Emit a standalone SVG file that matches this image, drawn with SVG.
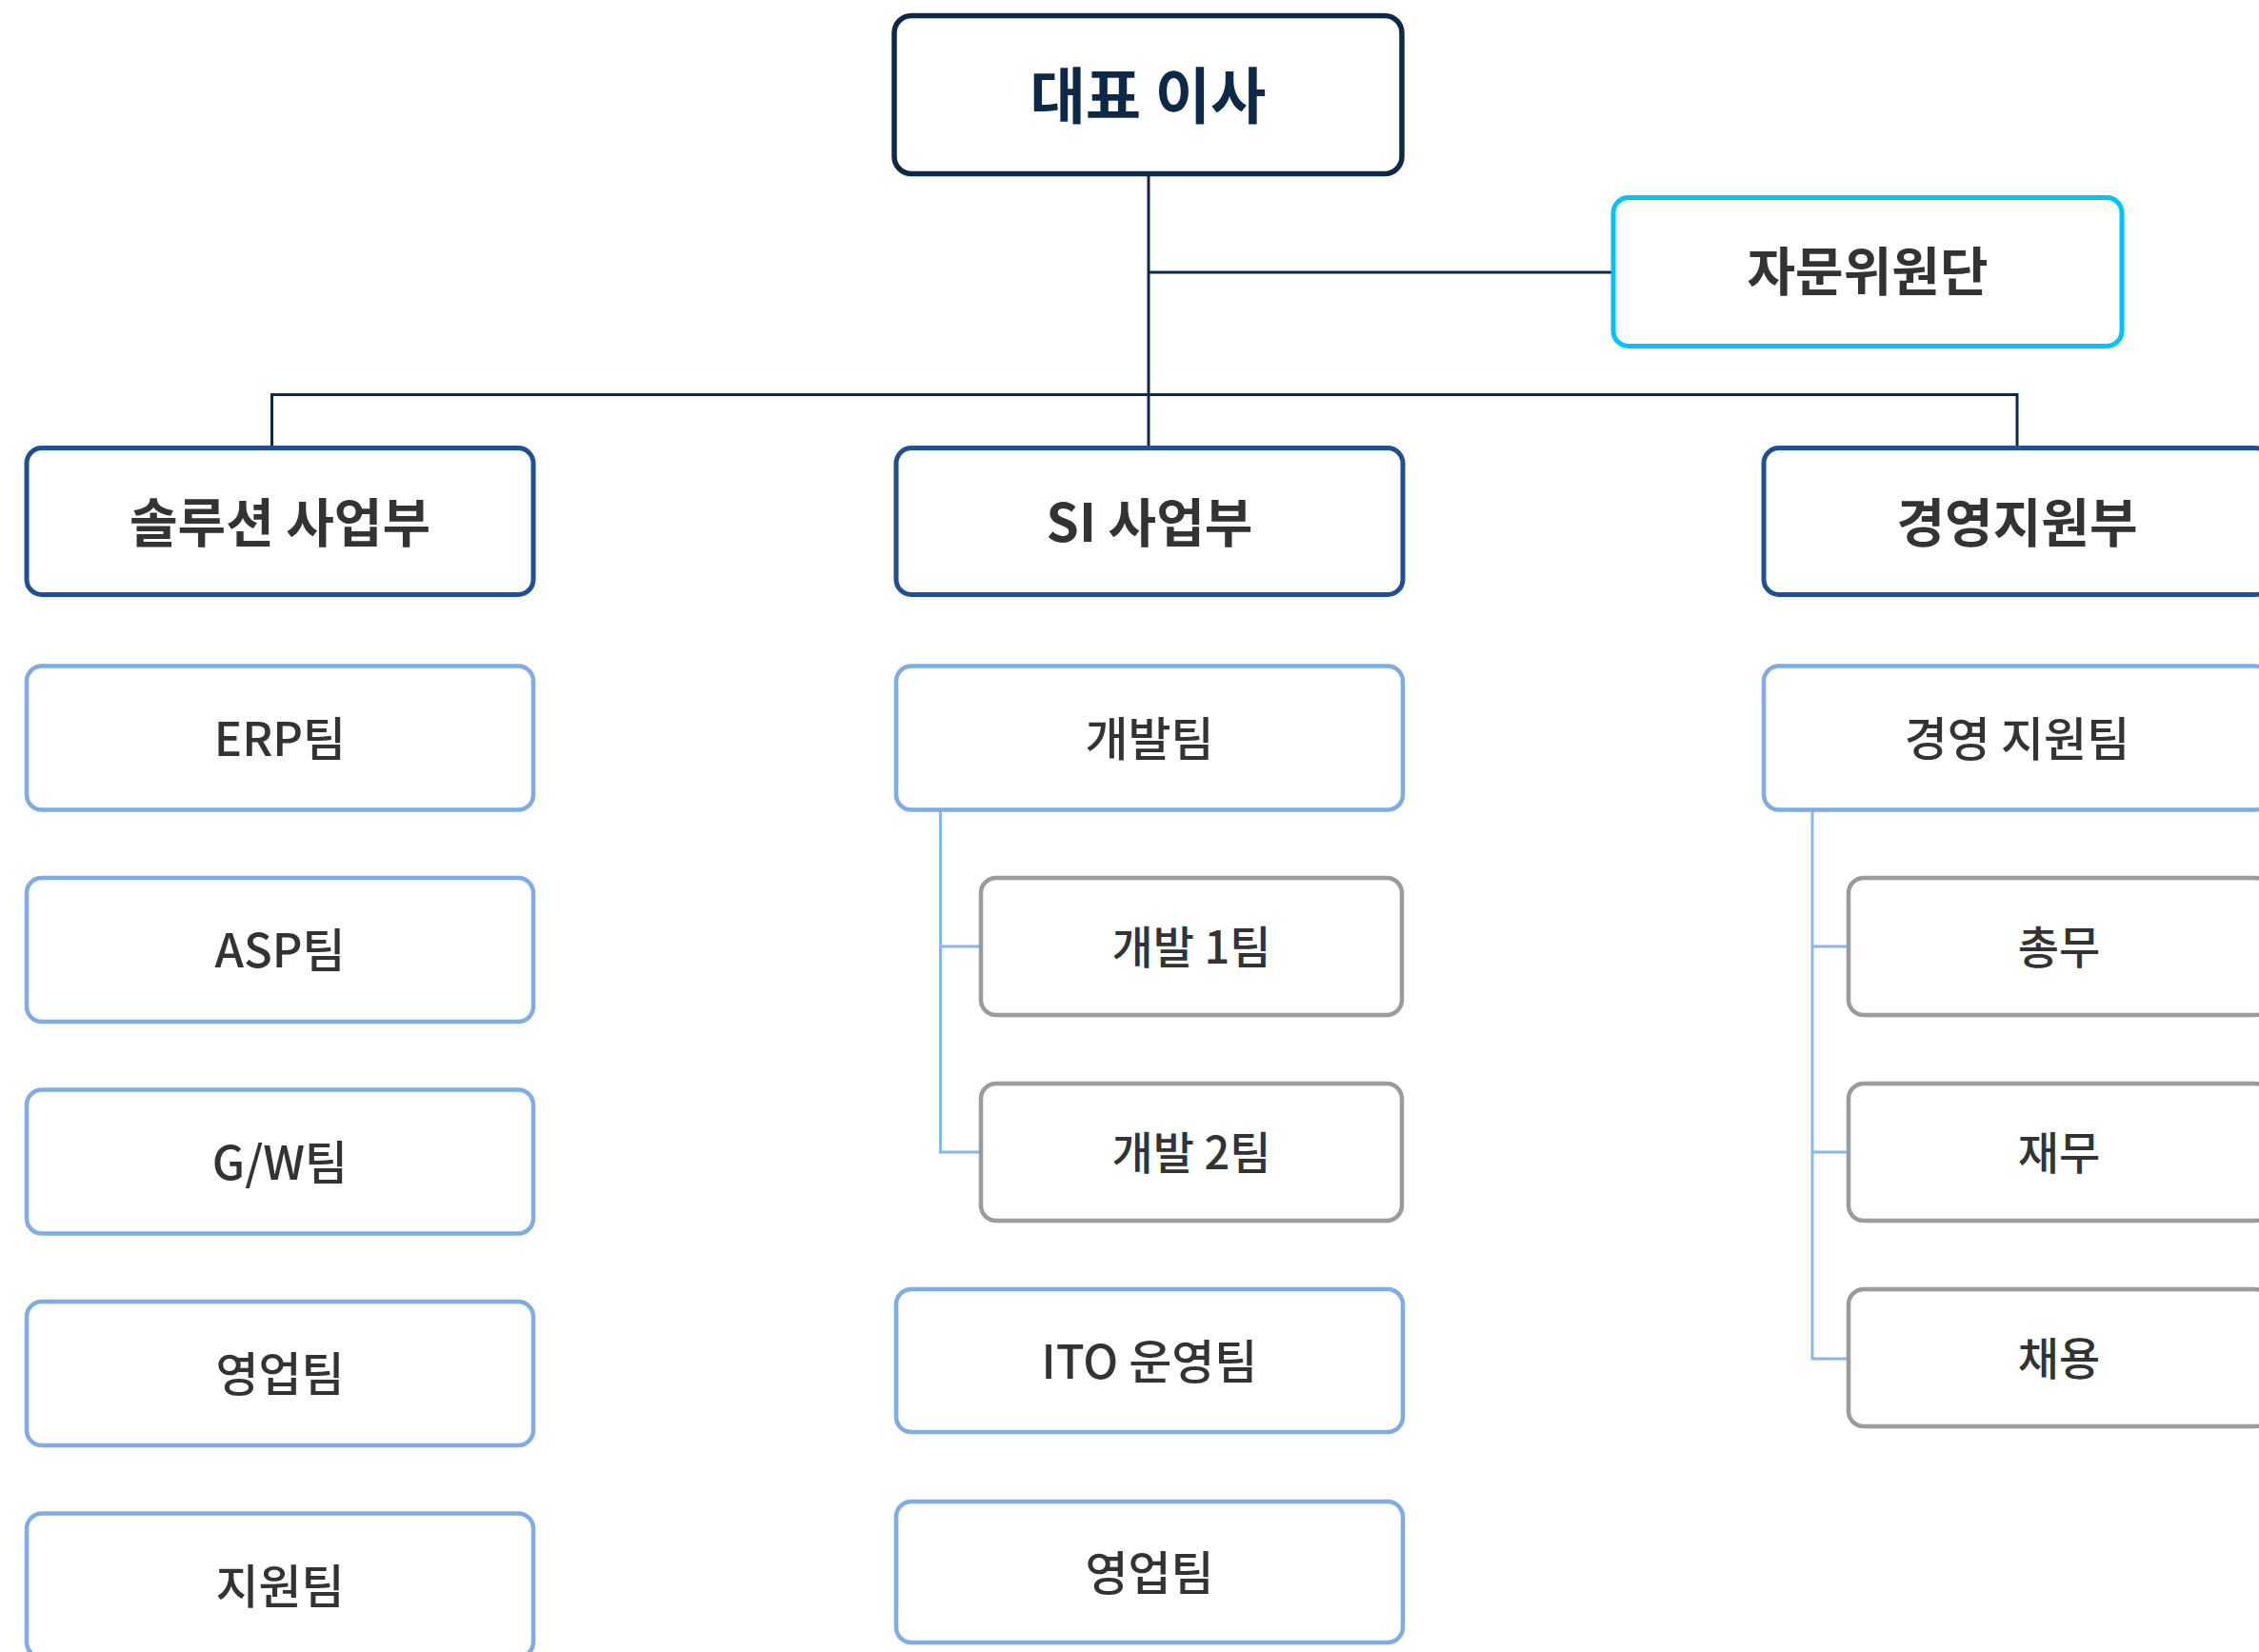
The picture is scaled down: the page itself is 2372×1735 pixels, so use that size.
<svg xmlns="http://www.w3.org/2000/svg" width="2372" height="1735" viewBox="0 0 2372 1735">
<style>
  .box { fill: #ffffff; }
  .ceo { stroke: #0e2848; stroke-width: 5.5; }
  .adv { stroke: #00c2ff; stroke-width: 5; }
  .div { stroke: #1f5190; stroke-width: 5; }
  .team { stroke: #80ace3; stroke-width: 4.5; }
  .sub { stroke: #9b9b9b; stroke-width: 4.5; }
  text { font-family: "Noto Sans CJK KR", "Noto Sans", sans-serif; text-anchor: middle; fill: #333333; }
  .t-ceo { font-size: 63.5px; font-weight: 700; fill: #0e2848; }
  .t-div { font-size: 55px; font-weight: 700; }
  .t-team { font-size: 49px; font-weight: 500; }
  .t-sub { font-size: 47px; font-weight: 500; }
  .c-main { stroke: #0e2848; stroke-width: 3; fill: none; }
  .c-sub { stroke: #8ab6e9; stroke-width: 3; fill: none; }
</style>
<rect width="2372" height="1735" fill="#ffffff"/>
<g id="connectors">
  <path class="c-main" d="M1206 182 V470"/>
  <path class="c-main" d="M1206 286 H1694"/>
  <path class="c-main" d="M285.5 470 V414.5 H2118 V470"/>
  <path class="c-sub" d="M987.5 849 V1210 H1030 M987.5 994 H1030"/>
  <path class="c-sub" d="M1903 849 V1427 H1941 M1903 994 H1941 M1903 1210 H1941"/>
</g>
<g id="ceo">
  <rect class="box ceo" x="939" y="16.5" width="533" height="166" rx="18"/>
  <text class="t-ceo" x="1205.5" y="124">대표 이사</text>
</g>
<g id="advisory">
  <rect class="box adv" x="1694" y="207.5" width="534" height="156" rx="16"/>
  <text class="t-div" x="1961" y="305">자문위원단</text>
</g>
<g id="div-solution">
  <rect class="box div" x="28" y="470.5" width="532" height="154" rx="16"/>
  <text class="t-div" x="294" y="568.5">솔루션 사업부</text>
</g>
<g id="div-si">
  <rect class="box div" x="941" y="470.5" width="532" height="154" rx="16"/>
  <text class="t-div" x="1207" y="568.5">SI 사업부</text>
</g>
<g id="div-mgmt">
  <rect class="box div" x="1852" y="470.5" width="532" height="154" rx="16"/>
  <text class="t-div" x="2118" y="568.5">경영지원부</text>
</g>
<g id="team-erp">
  <rect class="box team" x="28" y="699.5" width="532" height="151" rx="16"/>
  <text class="t-team" x="294" y="793.6">ERP팀</text>
</g>
<g id="team-asp">
  <rect class="box team" x="28" y="922" width="532" height="151" rx="16"/>
  <text class="t-team" x="294" y="1016.1">ASP팀</text>
</g>
<g id="team-gw">
  <rect class="box team" x="28" y="1144.5" width="532" height="151" rx="16"/>
  <text class="t-team" x="294" y="1238.6">G/W팀</text>
</g>
<g id="team-sales1">
  <rect class="box team" x="28" y="1367" width="532" height="151" rx="16"/>
  <text class="t-team" x="294" y="1461.1">영업팀</text>
</g>
<g id="team-support">
  <rect class="box team" x="28" y="1589.5" width="532" height="151" rx="16"/>
  <text class="t-team" x="294" y="1683.6">지원팀</text>
</g>
<g id="team-dev">
  <rect class="box team" x="941" y="699.5" width="532" height="151" rx="16"/>
  <text class="t-team" x="1207" y="793.6">개발팀</text>
</g>
<g id="sub-dev1">
  <rect class="box sub" x="1030" y="922" width="442" height="144" rx="16"/>
  <text class="t-sub" x="1251" y="1011.9">개발 1팀</text>
</g>
<g id="sub-dev2">
  <rect class="box sub" x="1030" y="1138" width="442" height="144" rx="16"/>
  <text class="t-sub" x="1251" y="1227.9">개발 2팀</text>
</g>
<g id="team-ito">
  <rect class="box team" x="941" y="1354" width="532" height="150" rx="16"/>
  <text class="t-team" x="1207" y="1447.6">ITO 운영팀</text>
</g>
<g id="team-sales2">
  <rect class="box team" x="941" y="1577" width="532" height="148" rx="16"/>
  <text class="t-team" x="1207" y="1669.6">영업팀</text>
</g>
<g id="team-mgmt">
  <rect class="box team" x="1852" y="699.5" width="532" height="151" rx="16"/>
  <text class="t-team" x="2118" y="793.6">경영 지원팀</text>
</g>
<g id="sub-general">
  <rect class="box sub" x="1941" y="922" width="443" height="144" rx="16"/>
  <text class="t-sub" x="2162" y="1011.9">총무</text>
</g>
<g id="sub-finance">
  <rect class="box sub" x="1941" y="1138" width="443" height="144" rx="16"/>
  <text class="t-sub" x="2162" y="1227.9">재무</text>
</g>
<g id="sub-hiring">
  <rect class="box sub" x="1941" y="1354" width="443" height="144" rx="16"/>
  <text class="t-sub" x="2162" y="1443.9">채용</text>
</g>
</svg>
